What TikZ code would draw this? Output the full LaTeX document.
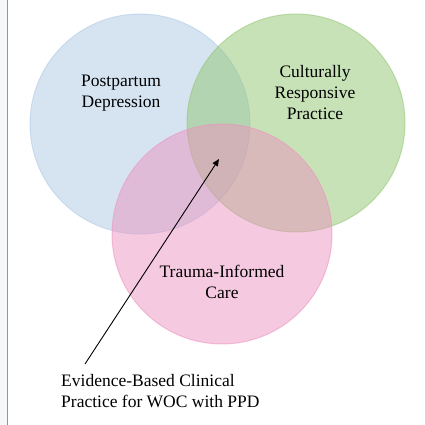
\documentclass[tikz,border=0pt]{standalone}
\usepackage{fontspec}
\setmainfont{Liberation Serif}
\usetikzlibrary{arrows.meta}

\definecolor{ppdblue}{RGB}{173,201,229}
\definecolor{crpgreen}{RGB}{145,197,113}
\definecolor{ticpink}{RGB}{235,147,191}
\definecolor{railgray}{RGB}{132,150,176}

\tikzset{
    venn/.style={fill opacity=0.5, draw opacity=0.55, line width=1pt},
    label/.style={font=\fontsize{17.5}{21}\selectfont, align=center, inner sep=0pt}
}

\begin{document}
\begin{tikzpicture}[x=1pt, y=1pt]

    % ==========================================
    % 1. PAGE FRAME
    % ==========================================
    \useasboundingbox (0,0) rectangle (425,425);
    \fill[railgray!8] (0,0) rectangle (7,425);
    \draw[railgray, line width=1.5pt] (7.5,0) -- (7.5,425);

    % ==========================================
    % 2. THE THREE CIRCLES
    % ==========================================
    \fill[venn, fill=ppdblue, draw=ppdblue] (140,301) circle (110);
    \fill[venn, fill=crpgreen, draw=crpgreen] (296,302) circle (109);
    \fill[venn, fill=ticpink, draw=ticpink] (222,191) circle (110);

    % ==========================================
    % 3. LABELS
    % ==========================================
    \node[label] (ppd) at (121,332) {Postpartum\\Depression};
    \node[label] (crp) at (315,332) {Culturally\\Responsive\\Practice};
    \node[label] (tic) at (222,143) {Trauma-Informed\\Care};

    \node[label, align=left, anchor=west] (ebp) at (61,33.5)
        {Evidence-Based Clinical\\Practice for WOC with PPD};

    % ==========================================
    % 4. POINTER INTO THE CENTRE
    % ==========================================
    \coordinate (tail) at (85,61);
    \coordinate (centre) at (219,266);
    \draw[-{Triangle[length=7pt, width=6pt]}, line width=0.9pt] (tail) -- (centre);

\end{tikzpicture}
\end{document}
